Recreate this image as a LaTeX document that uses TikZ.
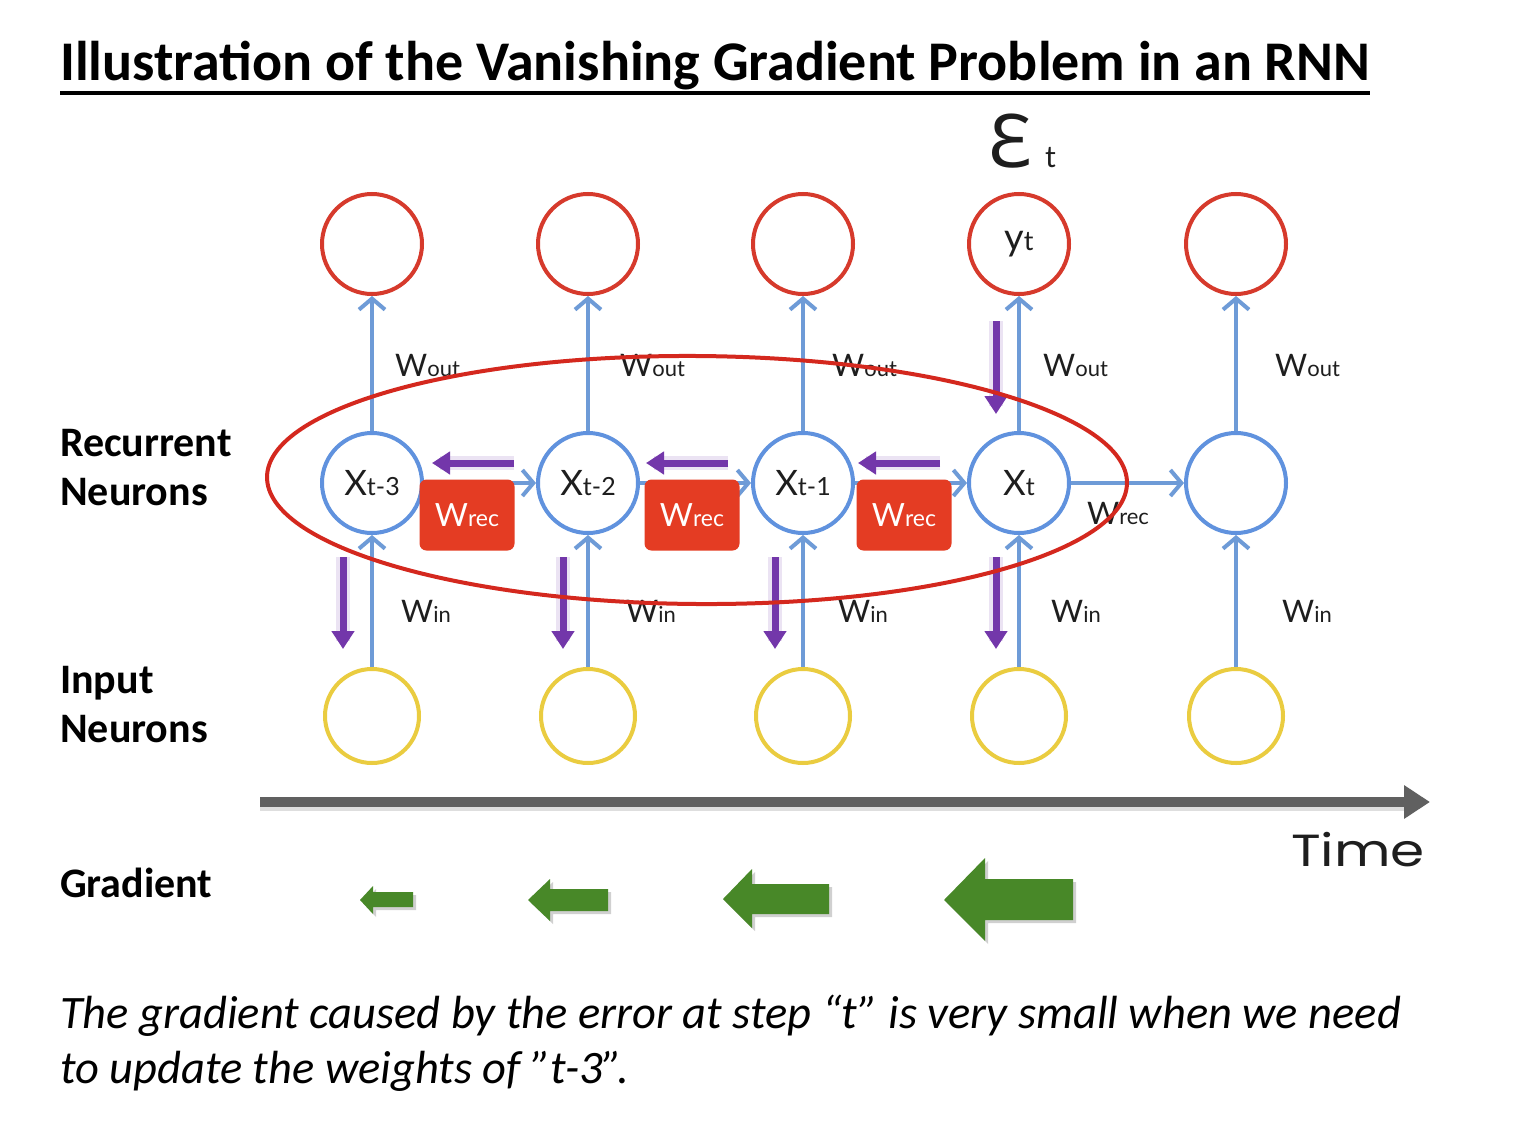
\documentclass[tikz,border=0pt]{standalone}
\usepackage{fontspec}
\setmainfont{Carlito}
\newfontfamily\labfont{Lato}
\newfontfamily\epsfont{Noto Sans}
\newfontfamily\timefont{Poppins}
\usetikzlibrary{arrows.meta,shadows,calc}
\definecolor{cred}{RGB}{214,58,44}
\definecolor{cblue}{RGB}{96,146,222}
\definecolor{cline}{RGB}{110,155,215}
\definecolor{cyel}{RGB}{234,204,64}
\definecolor{cwrec}{RGB}{228,60,35}
\definecolor{cpurp}{RGB}{115,55,170}
\definecolor{cgreen}{RGB}{72,136,40}
\definecolor{cgray}{RGB}{96,96,96}
\definecolor{cell}{RGB}{212,40,30}
\definecolor{ctext}{RGB}{30,30,30}
\newcommand\wlab[1]{{\labfont\fontsize{31}{32}\selectfont W\fontsize{22}{24}\selectfont #1}}
\newcommand\xlab[1]{{\labfont\fontsize{35}{36}\selectfont X\fontsize{25}{26}\selectfont #1}}
\begin{document}
\begin{tikzpicture}[x=1pt,y=-1pt,
  outc/.style={circle,draw=cred,line width=4pt,minimum size=100pt,inner sep=0pt,fill=white,text=ctext},
  hidc/.style={circle,draw=cblue,line width=4pt,minimum size=100pt,inner sep=0pt,fill=white,text=ctext},
  inc/.style={circle,draw=cyel,line width=4pt,minimum size=94pt,inner sep=0pt,fill=white},
  barr/.style={draw=cline,line width=4pt,-{Straight Barb[length=11pt,width=26pt]}},
  parr/.style={draw=cpurp,line width=7pt,-{Triangle[length=18pt,width=22pt]}},
  pglow/.style={draw=cpurp!40,line width=14pt,opacity=.35},
  wrec/.style={rectangle,rounded corners=7pt,fill=cwrec,minimum width=95pt,minimum height=71pt,inner sep=0pt,text=white},
  wl/.style={anchor=base west,inner sep=0pt,text=ctext},
  side/.style={anchor=base west,inner sep=0pt,font=\bfseries\fontsize{42}{44}\selectfont},
  garrow/.style={fill=cgreen,drop shadow={shadow xshift=3pt,shadow yshift=-3pt,opacity=.3,fill=black!60}},
]
\useasboundingbox (0,0) rectangle (1520,1140);
\fill[white] (0,0) rectangle (1520,1140);

% title
\node[anchor=base west,inner sep=0pt,font=\bfseries\fontsize{56}{60}\selectfont] (title) at (60,81)
  {Illustration of the Vanishing Gradient Problem in an RNN};
\draw[line width=4pt] ([yshift=-12pt]title.base west) -- ([yshift=-12pt]title.base east);

% side labels
\node[side] (rec1) at (60,456) {Recurrent};
\node[side] (rec2) at (60,505) {Neurons};
\node[side] (inp1) at (60,693) {Input};
\node[side] (inp2) at (60,742) {Neurons};
\node[side] (grad) at (60,897) {Gradient};

% error label
\node[anchor=base west,inner sep=0pt,font=\epsfont\fontsize{74}{76}\selectfont,text=ctext] (eps) at (988,167) {Ɛ};
\node[anchor=base west,inner sep=0pt,font=\labfont\fontsize{30}{30}\selectfont,text=ctext] (epst) at (1045,167) {t};

% output neurons
\node[outc] (o1) at (372,244) {};
\node[outc] (o2) at (588,244) {};
\node[outc] (o3) at (803,244) {};
\node[outc] (o4) at (1019,244) {\labfont\fontsize{38}{40}\selectfont y\fontsize{27}{28}\selectfont t};
\node[outc] (o5) at (1236,244) {};

% input neurons
\node[inc] (i1) at (372,716) {};
\node[inc] (i2) at (588,716) {};
\node[inc] (i3) at (803,716) {};
\node[inc] (i4) at (1019,716) {};
\node[inc] (i5) at (1236,716) {};

% recurrent neurons
\node[hidc] (h1) at (372,483) {\xlab{t-3}};
\node[hidc] (h2) at (588,483) {\xlab{t-2}};
\node[hidc] (h3) at (803,483) {\xlab{t-1}};
\node[hidc] (h4) at (1019,483) {\xlab{t}};
\node[hidc] (h5) at (1236,483) {};

% connectors
\foreach \k in {1,...,5}{
  \draw[barr] (i\k) -- (h\k);
  \draw[barr] (h\k) -- (o\k);
}
\draw[barr] (h1) -- (h2);
\draw[barr] (h2) -- (h3);
\draw[barr] (h3) -- (h4);
\draw[barr] (h4) -- (h5);

% weight labels
\node[wl] (wo1) at (395,376) {\wlab{out}};
\node[wl] (wo2) at (620,376) {\wlab{out}};
\node[wl] (wo3) at (832,376) {\wlab{out}};
\node[wl] (wo4) at (1043,376) {\wlab{out}};
\node[wl] (wo5) at (1275,376) {\wlab{out}};
\node[wl] (wi1) at (401,622) {\wlab{in}};
\node[wl] (wi2) at (626,622) {\wlab{in}};
\node[wl] (wi3) at (838,622) {\wlab{in}};
\node[wl] (wi4) at (1051,622) {\wlab{in}};
\node[wl] (wi5) at (1282,622) {\wlab{in}};
\node[wl] (wr4) at (1087,524) {\wlab{rec}};

% W_rec boxes
\node[wrec] (w1) at (467,515) {\labfont\fontsize{32}{34}\selectfont W\fontsize{23}{24}\selectfont rec};
\node[wrec] (w2) at (692,515) {\labfont\fontsize{32}{34}\selectfont W\fontsize{23}{24}\selectfont rec};
\node[wrec] (w3) at (904,515) {\labfont\fontsize{32}{34}\selectfont W\fontsize{23}{24}\selectfont rec};

% purple gradient arrows
\coordinate (pa1) at (514,463); \coordinate (pb1) at (432,463);
\coordinate (pa2) at (728,463); \coordinate (pb2) at (646,463);
\coordinate (pa3) at (940,463); \coordinate (pb3) at (858,463);
\coordinate (pc1) at (343,557); \coordinate (pd1) at (343,649);
\coordinate (pc2) at (563,557); \coordinate (pd2) at (563,649);
\coordinate (pc3) at (775,557); \coordinate (pd3) at (775,649);
\coordinate (pc4) at (996,557); \coordinate (pd4) at (996,649);
\coordinate (pe) at (996,321); \coordinate (pf) at (996,414);
\foreach \k in {1,2,3}{
  \draw[pglow] (pa\k) -- ([xshift=8pt]pb\k);
  \draw[parr] (pa\k) -- (pb\k);
}
\foreach \k in {1,2,3,4}{
  \draw[pglow] (pc\k) -- ([yshift=8pt]pd\k);
  \draw[parr] (pc\k) -- (pd\k);
}
\draw[pglow] (pe) -- ([yshift=8pt]pf);
\draw[parr] (pe) -- (pf);

% red ellipse
\draw[cell,line width=4pt,rotate around={-0.4:(697,480)}] (697,480) ellipse [x radius=430, y radius=124];

% time axis
\coordinate (ta) at (260,802);
\coordinate (tb) at (1430,802);
\draw[black!25,line width=10pt,opacity=.5] ([yshift=-4pt]ta) -- ([yshift=-4pt,xshift=-25pt]tb);
\draw[cgray,line width=10pt,-{Triangle[length=26pt,width=32pt]}] (ta) -- (tb);
\node[anchor=base west,inner sep=0pt,text=ctext] (time) at (1291,866)
  {\scalebox{1.22}[1]{\timefont\fontsize{45}{46}\selectfont Time}};

% green gradient arrows
\fill[garrow] (360,900) -- (373,886) -- (373,892) -- (413,892) -- (413,907) -- (373,907) -- (373,914) -- cycle;
\fill[garrow] (528,900) -- (550,879) -- (550,889) -- (608,889) -- (608,911) -- (550,911) -- (550,921) -- cycle;
\fill[garrow] (723,899) -- (752,869) -- (752,884) -- (829,884) -- (829,914) -- (752,914) -- (752,928) -- cycle;
\fill[garrow] (944,900) -- (985,858) -- (985,879) -- (1073,879) -- (1073,920) -- (985,920) -- (985,941) -- cycle;

% caption
\node[anchor=base west,inner sep=0pt,font=\itshape\fontsize{46.5}{50}\selectfont] (cap1) at (60,1028)
  {The gradient caused by the error at step “t” is very small when we need};
\node[anchor=base west,inner sep=0pt,font=\itshape\fontsize{46.5}{50}\selectfont] (cap2) at (60,1083)
  {to update the weights of ”t-3”.};
\end{tikzpicture}
\end{document}
